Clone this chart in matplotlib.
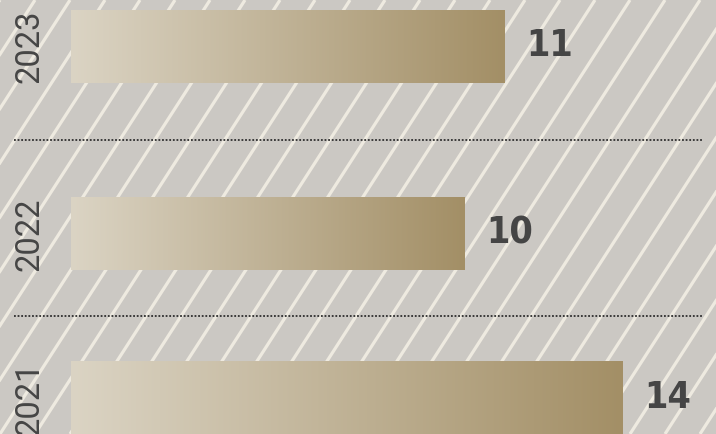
import numpy as np
import matplotlib.pyplot as plt
from matplotlib.colors import LinearSegmentedColormap

years = ["2023", "2022", "2021"]
counts = [11, 10, 14]

W, H = 716, 434
row_centers = [46.5, 234, 398]   # pixel rows, top to bottom
bar_h = 73
x_zero = 71                      # pixel where the value axis starts
px_per_unit = 39.4

bg = "#cbc8c3"
stripe = "#eeeae0"
text_col = "#454545"
grad = LinearSegmentedColormap.from_list("gold", ["#dbd4c4", "#a38f66"])

fig = plt.figure(figsize=(W / 100, H / 100), dpi=100)
fig.patch.set_facecolor(bg)

# background layer in pixel units: diagonal stripes + dotted separators
bgax = fig.add_axes([0, 0, 1, 1])
bgax.set_xlim(0, W)
bgax.set_ylim(H, 0)
bgax.set_facecolor(bg)
bgax.axis("off")
run = H / 1.55
for x0 in np.arange(-run, W + 40, 35):
    bgax.plot([x0, x0 + run], [H, 0], color=stripe, lw=2.3, solid_capstyle="butt", zorder=1)
for i in range(len(row_centers) - 1):
    ysep = (row_centers[i] + bar_h / 2 + row_centers[i + 1] - bar_h / 2) / 2
    bgax.plot([14, 703], [ysep, ysep], color="#2e2e2e", lw=1.3,
              linestyle=(0, (1, 1)), zorder=2)

# data layer: x in counts, y in pixel rows
ax = fig.add_axes([0, 0, 1, 1])
ax.set_xlim(-x_zero / px_per_unit, (W - x_zero) / px_per_unit)
ax.set_ylim(H, 0)
ax.patch.set_alpha(0)
ax.axis("off")

gradient = np.linspace(0, 1, 256).reshape(1, -1)
bars = ax.barh(row_centers, counts, height=bar_h, left=0, color="none", zorder=3)
for rect, year, n, yc in zip(bars, years, counts, row_centers):
    x, y = rect.get_x(), rect.get_y()
    w, h = rect.get_width(), rect.get_height()
    ax.imshow(gradient, cmap=grad, aspect="auto", interpolation="bicubic",
              extent=(x, x + w, y + h, y), zorder=3)
    ax.text(x + w + 45 / px_per_unit, yc, str(n), ha="center", va="center",
            fontsize=27, fontweight="bold", fontstretch="condensed",
            family="DejaVu Sans", color=text_col, zorder=4)
    ax.text(-41 / px_per_unit, yc, year, rotation=90, ha="center", va="center",
            fontsize=23.5, family="Roboto", fontweight="normal", color=text_col, zorder=4)

ax.set_xlim(-x_zero / px_per_unit, (W - x_zero) / px_per_unit)
ax.set_ylim(H, 0)

fig.savefig("out.png", dpi=100, facecolor=bg)
